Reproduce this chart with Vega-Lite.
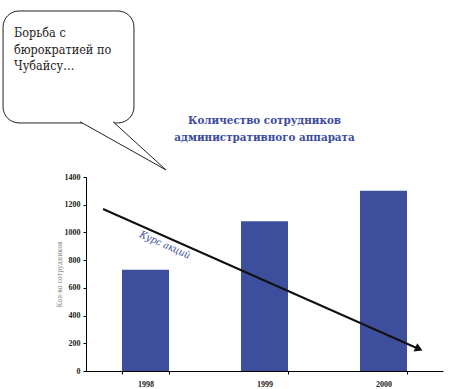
{
  "$schema": "https://vega.github.io/schema/vega-lite/v6.json",
  "width": 357,
  "height": 194,
  "autosize": {"type": "none"},
  "padding": {"left": 86, "top": 177, "right": 10, "bottom": 18},
  "background": "white",
  "config": {"view": {"stroke": null}, "font": "Liberation Serif"},
  "datasets": {
    "bars": [
      {"year": "1998", "value": 730},
      {"year": "1999", "value": 1080},
      {"year": "2000", "value": 1300}
    ],
    "arrow": [
      {"i": 0, "ax": 0.143, "value": 1169},
      {"i": 1, "ax": 2.798, "value": 159}
    ],
    "head": [{"ax": 2.798, "value": 159}],
    "label": [{"ax": 0.664, "value": 909, "t": "Курс акций"}],
    "titletext": [{"ax": 1.5, "value": 1782, "t": "Количество сотрудников\nадминистративного аппарата"}],
    "bubble": [{"ax": -0.697, "ax2": 0.403, "value": 2598, "value2": 1790}],
    "tail": [
      {"i": 0, "ax": -0.05, "value": 1799},
      {"i": 1, "ax": 0.672, "value": 1451},
      {"i": 2, "ax": 0.227, "value": 1799}
    ],
    "btext": [{"ax": -0.605, "value": 2410, "t": "Борьба с\nбюрократией по\nЧубайсу…"}]
  },
  "encoding": {
    "y": {
      "field": "value", "type": "quantitative",
      "scale": {"domain": [0, 1400], "nice": false},
      "axis": {
        "values": [0, 200, 400, 600, 800, 1000, 1200, 1400],
        "format": "d", "labelOverlap": false,
        "title": "Кол-во сотрудников", "titleFont": "DejaVu Serif Condensed, DejaVu Serif",
        "titleFontSize": 7, "titleFontWeight": "normal", "titleColor": "#777",
        "titlePadding": 2,
        "labelFont": "Liberation Serif", "labelFontSize": 8,
        "labelFontWeight": "bold", "labelColor": "#222", "labelPadding": 3,
        "domainColor": "black", "tickColor": "black", "tickSize": 3,
        "grid": false
      }
    }
  },
  "layer": [
    {
      "data": {"name": "bars"},
      "mark": {"type": "bar", "color": "#3D4F9C"},
      "encoding": {
        "x": {
          "field": "year", "type": "nominal",
          "scale": {"paddingInner": 0.605, "paddingOuter": 0.3025},
          "axis": {
            "title": null, "labelAngle": 0, "labelFont": "Liberation Serif",
            "labelFontSize": 8, "labelFontWeight": "bold", "labelColor": "#222",
            "domainColor": "black", "tickColor": "black", "tickSize": 3,
            "tickBand": "extent", "labelPadding": 6, "grid": false
          }
        }
      }
    },
    {
      "data": {"name": "titletext"},
      "mark": {"type": "text", "align": "center", "baseline": "alphabetic", "lineBreak": "\n", "lineHeight": 17, "font": "DejaVu Serif Condensed, DejaVu Serif", "fontSize": 11.5, "fontWeight": "bold", "color": "#3B4AA0"},
      "encoding": {
        "x": {"field": "ax", "type": "quantitative", "scale": {"domain": [0, 3], "nice": false, "zero": false}, "axis": null},
        "text": {"field": "t"}
      }
    },
    {
      "data": {"name": "bubble"},
      "mark": {"type": "rect", "fill": "white", "stroke": "#222", "strokeWidth": 1, "cornerRadius": 16},
      "encoding": {
        "x": {"field": "ax", "type": "quantitative", "scale": {"domain": [0, 3], "nice": false, "zero": false}, "axis": null},
        "x2": {"field": "ax2"},
        "y2": {"field": "value2"}
      }
    },
    {
      "data": {"name": "tail"},
      "mark": {"type": "line", "fill": "white", "stroke": "#222", "strokeWidth": 1},
      "encoding": {
        "x": {"field": "ax", "type": "quantitative", "scale": {"domain": [0, 3], "nice": false, "zero": false}, "axis": null},
        "order": {"field": "i"}
      }
    },
    {
      "data": {"name": "btext"},
      "mark": {"type": "text", "align": "left", "baseline": "alphabetic", "lineBreak": "\n", "lineHeight": 16.5, "font": "DejaVu Serif Condensed, DejaVu Serif", "fontSize": 12.5, "color": "#222"},
      "encoding": {
        "x": {"field": "ax", "type": "quantitative", "scale": {"domain": [0, 3], "nice": false, "zero": false}, "axis": null},
        "text": {"field": "t"}
      }
    },
    {
      "data": {"name": "arrow"},
      "mark": {"type": "line", "color": "#111", "strokeWidth": 2},
      "encoding": {
        "x": {"field": "ax", "type": "quantitative", "scale": {"domain": [0, 3], "nice": false, "zero": false}, "axis": null},
        "order": {"field": "i"}
      }
    },
    {
      "data": {"name": "head"},
      "mark": {"type": "point", "shape": "triangle-right", "angle": 24, "filled": true, "color": "#111", "size": 80, "opacity": 1},
      "encoding": {
        "x": {"field": "ax", "type": "quantitative", "scale": {"domain": [0, 3], "nice": false, "zero": false}, "axis": null}
      }
    },
    {
      "data": {"name": "label"},
      "mark": {"type": "text", "angle": 24, "font": "DejaVu Serif Condensed, DejaVu Serif", "fontStyle": "italic", "fontSize": 10, "color": "#3B4AA0", "align": "center", "baseline": "middle"},
      "encoding": {
        "x": {"field": "ax", "type": "quantitative", "scale": {"domain": [0, 3], "nice": false, "zero": false}, "axis": null},
        "text": {"field": "t"}
      }
    }
  ],
  "resolve": {"scale": {"x": "independent"}, "axis": {"x": "independent"}}
}
